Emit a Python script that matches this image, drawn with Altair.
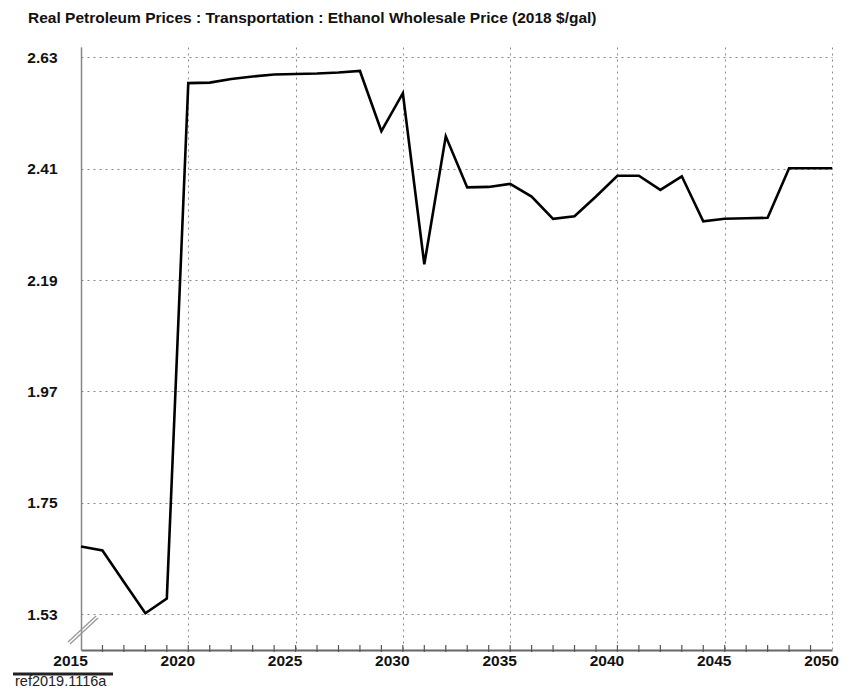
import altair as alt
import pandas as pd

title_text = "Real Petroleum Prices : Transportation : Ethanol Wholesale Price (2018 $/gal)"
source_text = "ref2019.1116a"

years = list(range(2015, 2051))
prices = [1.664, 1.656, 1.594, 1.532, 1.561,
          2.579, 2.580, 2.587, 2.592, 2.596, 2.597, 2.598, 2.600, 2.603,
          2.484, 2.559, 2.221, 2.474,
          2.373, 2.374, 2.380, 2.355, 2.311, 2.316, 2.355,
          2.396, 2.396, 2.368, 2.395,
          2.306, 2.311, 2.312, 2.313,
          2.411, 2.411, 2.411]
y_ticks = [1.53, 1.75, 1.97, 2.19, 2.41, 2.63]
x_ticks = [2015, 2020, 2025, 2030, 2035, 2040, 2045, 2050]
minor_years = list(range(2016, 2050))

df = pd.DataFrame({"year": years, "price": prices})
minor_df = pd.DataFrame({"year": minor_years})

FONT = "Liberation Sans"
W, H = 751, 603

xscale = alt.Scale(domain=[2015, 2050], nice=False, zero=False)
yscale = alt.Scale(domain=[1.4595, 2.6503], nice=False, zero=False)

line = alt.Chart(df).mark_line(color="black", strokeWidth=2.6, strokeJoin="miter").encode(
    x=alt.X("year:Q", scale=xscale, title=None,
            axis=alt.Axis(values=x_ticks, format="d", grid=True, gridDash=[2, 4],
                          gridColor="#888", gridWidth=1, ticks=False,
                          domainColor="#666", domainWidth=2,
                          labelFont=FONT, labelFontSize=15.5, labelFontWeight="bold",
                          labelColor="#111", labelPadding=3, labelFlush=False,
                          labelOffset=-11)),
    y=alt.Y("price:Q", scale=yscale, title=None,
            axis=alt.Axis(values=y_ticks, format=".2f", grid=True, gridDash=[2, 4],
                          gridColor="#888", gridWidth=1, ticks=False,
                          domainColor="#888", domainWidth=1.5,
                          labelFont=FONT, labelFontSize=15.5, labelFontWeight="bold",
                          labelColor="#111", labelPadding=24)),
)

minor = alt.Chart(minor_df).mark_rule(color="#555", strokeWidth=1.2).encode(
    x=alt.X("year:Q", scale=xscale),
    y=alt.value(H - 5),
    y2=alt.value(H + 2),
)

brk1 = alt.Chart(pd.DataFrame({"k": [0]})).mark_rule(color="#999", strokeWidth=1.3).encode(
    x=alt.value(-13), x2=alt.value(15), y=alt.value(H - 8), y2=alt.value(H - 34))
brk2 = alt.Chart(pd.DataFrame({"k": [0]})).mark_rule(color="#999", strokeWidth=1.3).encode(
    x=alt.value(-11), x2=alt.value(17), y=alt.value(H - 6), y2=alt.value(H - 32))

title_mark = alt.Chart(pd.DataFrame({"t": [title_text]})).mark_text(
    font=FONT, fontSize=15.5, fontWeight="bold", align="left", baseline="alphabetic", color="#111"
).encode(text="t:N", x=alt.value(-53), y=alt.value(-24))

src_line = alt.Chart(pd.DataFrame({"k": [0]})).mark_rule(color="#222", strokeWidth=3).encode(
    x=alt.value(-68), x2=alt.value(32), y=alt.value(H + 24))
src_mark = alt.Chart(pd.DataFrame({"t": [source_text]})).mark_text(
    font=FONT, fontSize=14.5, align="left", baseline="alphabetic", color="#222"
).encode(text="t:N", x=alt.value(-66), y=alt.value(H + 36))

chart = alt.layer(line, minor, brk1, brk2, title_mark, src_line, src_mark).properties(
    width=W, height=H,
    autosize=alt.AutoSizeParams(type="none"),
    padding={"left": 73, "top": 39, "right": 10, "bottom": 41},
).configure_view(stroke=None)

chart.save("out.html", embed_options={"renderer": "svg", "actions": False})
